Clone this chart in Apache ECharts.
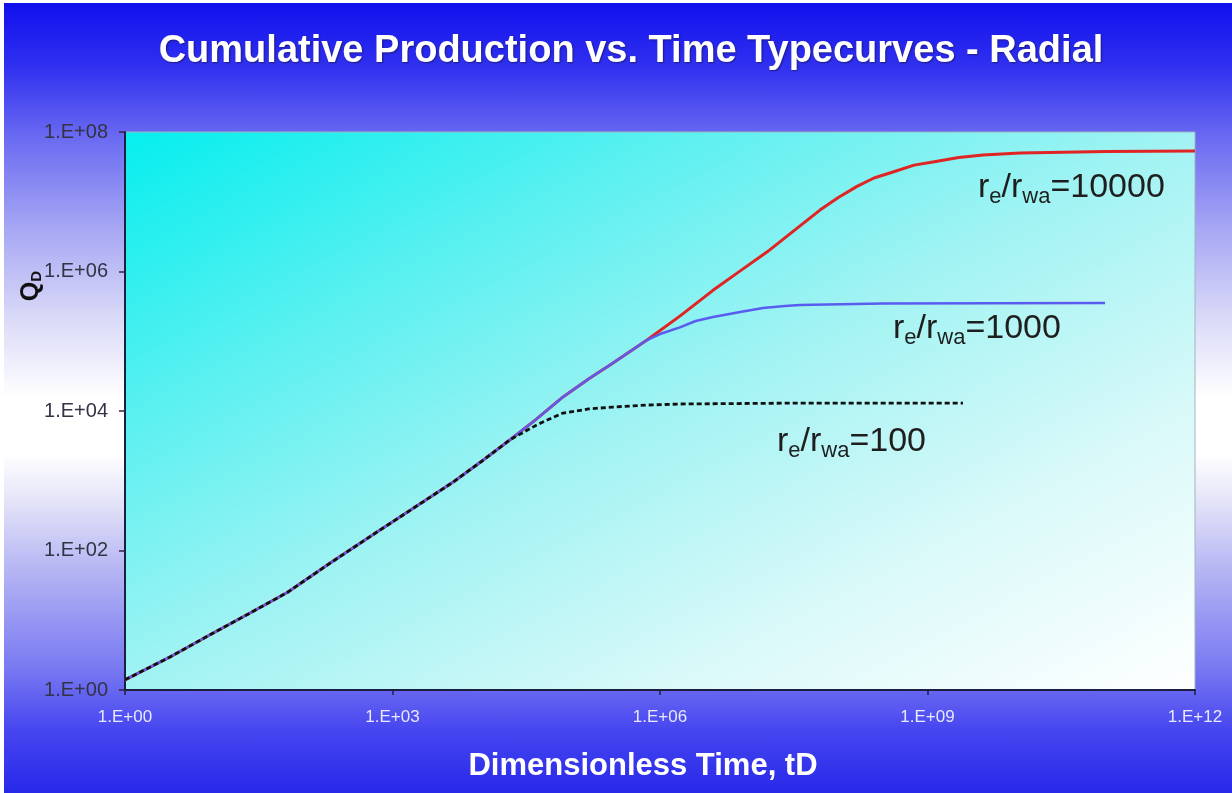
<!DOCTYPE html>
<html>
<head>
<meta charset="utf-8">
<script src="https://cdn.jsdelivr.net/npm/echarts@6/dist/echarts.min.js"></script>
<style>
  html, body { margin: 0; padding: 0; background: #ffffff; }
  #bg { position: absolute; left: 4px; top: 3px; width: 1228px; height: 790px;
        background: linear-gradient(to bottom, #1010ee 0%, #3030f0 8%, #6a6af2 17%, #a4a4f4 28%, #dadaf8 40%, #ffffff 50%, #ffffff 57%, #e4e4f8 63%, #b4b4f4 72%, #7a7af2 84%, #4646f0 92%, #2828ea 100%); }
  #chart { position: absolute; left: 0; top: 0; width: 1232px; height: 793px; }
</style>
</head>
<body>
<div id="bg"></div>
<div id="chart"></div>
<script>
// ---- data (dimensionless time tD, cumulative production QD) ----
const xTickLabels = ['1.E+00', '1.E+03', '1.E+06', '1.E+09', '1.E+12'];
const yTickLabels = ['1.E+00', '1.E+02', '1.E+04', '1.E+06', '1.E+08'];

const tD_100 = [1, 3.16, 9, 25, 66, 200, 670, 1780, 4800, 10000, 21000, 42700, 81700, 158000, 297000, 708000, 1.67e6, 3.7e7, 2.5e9];
const qD_100 = [1.4, 2.95, 6.2, 12.6, 25, 66, 184, 417, 960, 1900, 3900, 6450, 9350, 10700, 11400, 12160, 12600, 13000, 13000];

const tD_1000 = [1, 3.16, 9, 25, 66, 200, 670, 1780, 4800, 10000, 21000, 39800, 81700, 158000, 297000, 715000, 1e6, 1.67e6, 2.51e6, 3.93e6, 7.94e6, 1.43e7, 2.51e7, 3.7e7, 3.16e8, 9.8e10];
const qD_1000 = [1.4, 2.95, 6.2, 12.6, 25, 66, 184, 417, 960, 1900, 3900, 7400, 15900, 28800, 48800, 104000, 127000, 158000, 195000, 223000, 263000, 300000, 320000, 331000, 347000, 353000];

const tD_10000 = [1, 3.16, 9, 25, 66, 200, 670, 1780, 4800, 10000, 21000, 39800, 81700, 158000, 297000, 715000, 1.67e6, 3.93e6, 7.94e6, 1.58e7, 3.16e7, 6.22e7, 1e8, 1.62e8, 2.51e8, 4.1e8, 7.08e8, 1.15e9, 2.24e9, 4.19e9, 1.09e10, 1e11, 1e12];
const qD_10000 = [1.4, 2.95, 6.2, 12.6, 25, 66, 184, 417, 960, 1900, 3900, 7400, 15900, 28800, 48800, 104000, 229000, 537000, 1.02e6, 1.9e6, 3.83e6, 7.59e6, 1.15e7, 1.66e7, 2.19e7, 2.67e7, 3.35e7, 3.72e7, 4.3e7, 4.68e7, 5.0e7, 5.25e7, 5.35e7];

const seriesNames = ['re/rwa=10000', 're/rwa=1000', 're/rwa=100'];

function pairs(t, q) { return t.map((v, i) => [v, q[i]]); }

const chart = echarts.init(document.getElementById('chart'));
const FONT = 'Liberation Sans, Arial, sans-serif';

const labelRich = {
  r: { fontSize: 34, lineHeight: 34, verticalAlign: 'top', fill: '#1e1e1e', color: '#1e1e1e', fontFamily: FONT },
  s: { fontSize: 22, lineHeight: 22, padding: [15, 0, 0, 0], verticalAlign: 'top', fill: '#1e1e1e', color: '#1e1e1e', fontFamily: FONT }
};

function reLabel(val, x, y) {
  return {
    type: 'text', x: x, y: y, z: 100,
    style: {
      text: '{r|r}{s|e}{r|/r}{s|wa}{r|=' + val + '}',
      rich: labelRich,
      textAlign: 'left', textVerticalAlign: 'middle'
    }
  };
}

const option = {
  backgroundColor: 'transparent',
  animation: false,
  title: {
    text: 'Cumulative Production vs. Time Typecurves - Radial',
    left: 626, top: 28, textAlign: 'center',
    textStyle: {
      color: '#ffffff', fontSize: 38, fontWeight: 'bold', fontFamily: FONT,
      textShadowColor: 'rgba(20,20,80,0.7)', textShadowBlur: 2, textShadowOffsetX: 1, textShadowOffsetY: 1
    }
  },
  grid: {
    left: 125, right: 37, top: 132, bottom: 103,
    show: true,
    borderColor: '#a0b4c0', borderWidth: 1,
    backgroundColor: new echarts.graphic.LinearGradient(125, 132, 582.6, 1009.5, [
      { offset: 0, color: '#06eeee' },
      { offset: 0.25, color: '#58f0f0' },
      { offset: 0.5, color: '#a2f3f3' },
      { offset: 0.75, color: '#daf9f9' },
      { offset: 1, color: '#ffffff' }
    ], true)
  },
  xAxis: {
    type: 'log', logBase: 1000, min: 1, max: 1e12,
    axisLine: { show: true, onZero: false, lineStyle: { color: '#1c2040', width: 2 } },
    axisTick: { show: true, length: 5, lineStyle: { color: '#1c2040', width: 1.5 } },
    minorTick: { show: false },
    splitLine: { show: false },
    axisLabel: {
      color: '#e8e8ff', fontSize: 17, fontFamily: FONT, margin: 19,
      formatter: v => xTickLabels[Math.round(Math.log10(v) / 3)] || ''
    }
  },
  yAxis: {
    type: 'log', logBase: 100, min: 1, max: 1e8,
    axisLine: { show: true, onZero: false, lineStyle: { color: '#1c2040', width: 2 } },
    axisTick: { show: true, length: 6, lineStyle: { color: '#3a2040', width: 1.5 } },
    splitLine: { show: false },
    axisLabel: {
      color: '#333344', fontSize: 20, fontFamily: FONT, margin: 17,
      formatter: v => yTickLabels[Math.round(Math.log10(v) / 2)] || ''
    }
  },
  graphic: [
    { type: 'rect', left: 0, top: 0, shape: { width: 4, height: 793 }, style: { fill: '#ffffff' }, z: 100 },
    { type: 'rect', left: 0, top: 0, shape: { width: 1232, height: 3 }, style: { fill: '#ffffff' }, z: 100 },
    reLabel('10000', 978, 188),
    reLabel('1000', 893, 329),
    reLabel('100', 777, 442),
    {
      type: 'text', x: 31, y: 286, rotation: Math.PI / 2, z: 100,
      style: {
        text: '{q|Q}{d|D}',
        rich: {
          q: { fontSize: 25, fontWeight: 'bold', lineHeight: 25, verticalAlign: 'top', fill: '#111', color: '#111', fontFamily: FONT },
          d: { fontSize: 15, fontWeight: 'bold', lineHeight: 15, padding: [11, 0, 0, 0], verticalAlign: 'top', fill: '#111', color: '#111', fontFamily: FONT }
        },
        textAlign: 'center', textVerticalAlign: 'middle'
      }
    },
    {
      type: 'text', x: 643, y: 766, z: 100,
      style: {
        text: 'Dimensionless Time, tD',
        fill: '#ffffff', font: 'bold 31px ' + FONT,
        textAlign: 'center', textVerticalAlign: 'middle',
        shadowColor: 'rgba(10,10,60,0.6)', shadowBlur: 2, shadowOffsetX: 1, shadowOffsetY: 1
      }
    }
  ],
  series: [
    {
      name: seriesNames[0], type: 'line', data: pairs(tD_10000, qD_10000),
      showSymbol: false, smooth: false, z: 3,
      lineStyle: { color: '#e02424', width: 3 }
    },
    {
      name: seriesNames[1], type: 'line', data: pairs(tD_1000, qD_1000),
      showSymbol: false, smooth: false, z: 4,
      lineStyle: { color: '#5a5cf0', width: 2.5 }
    },
    {
      name: seriesNames[2], type: 'line', data: pairs(tD_100, qD_100),
      showSymbol: false, smooth: false, z: 5,
      lineStyle: { color: '#111111', width: 2.8, type: [5, 3] }
    }
  ]
};
chart.setOption(option);
</script>
</body>
</html>
